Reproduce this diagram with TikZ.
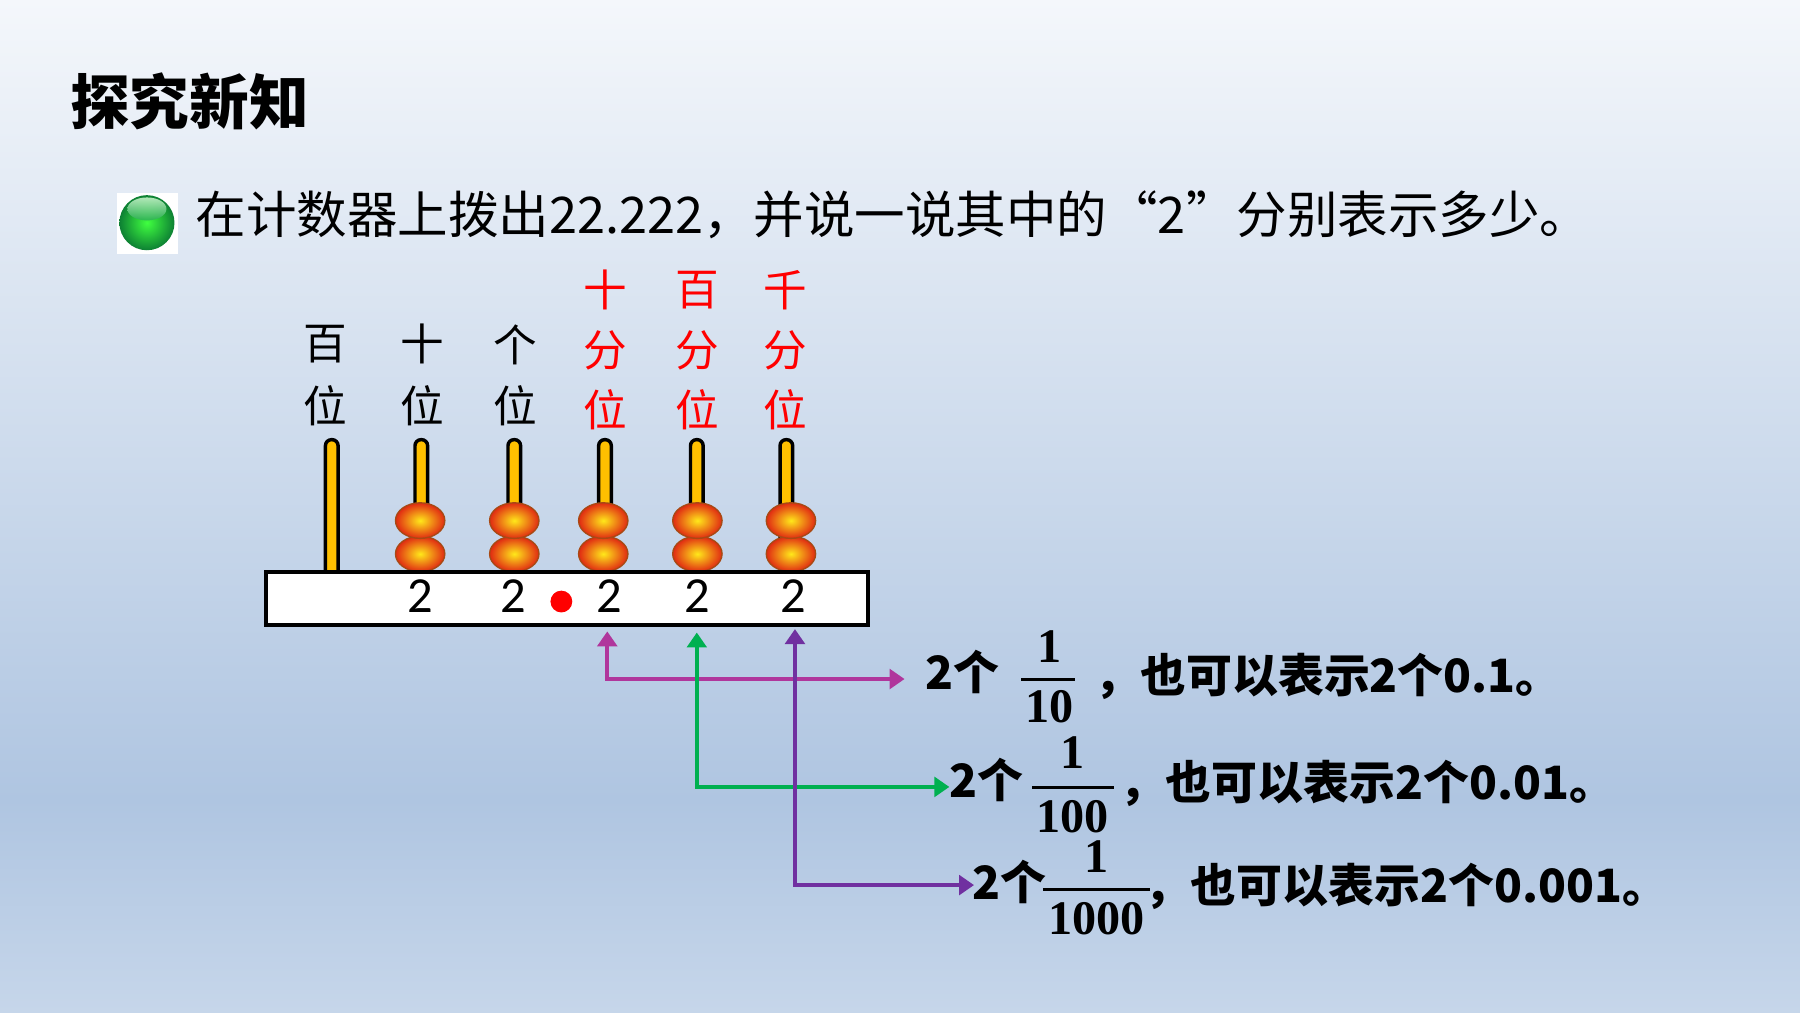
\documentclass[tikz,border=0pt]{standalone}
\usepackage{fontspec}
\newfontfamily\cjk{Noto Sans CJK SC}
\newfontfamily\fracfont{Liberation Serif}
\setsansfont{Carlito}
\usetikzlibrary{arrows.meta}
\definecolor{bgtop}{HTML}{F4F7FB}
\definecolor{bgmid}{HTML}{AFC5E1}
\definecolor{bgbot}{HTML}{C6D6EA}
\definecolor{rodyellow}{HTML}{FFC000}
\definecolor{beadcore}{HTML}{FFE81A}
\definecolor{beadrim}{HTML}{E02A12}
\definecolor{beadedge}{HTML}{A84A14}
\definecolor{arrmag}{HTML}{B0369C}
\definecolor{arrgreen}{HTML}{00B050}
\definecolor{arrpurple}{HTML}{7030A0}
\definecolor{ballgreen}{HTML}{10A040}
\tikzset{
  lab/.style={font=\cjk\fontsize{19}{19}\selectfont, inner sep=0pt},
  redlab/.style={lab, text=red},
  rodstyle/.style={draw=black, fill=rodyellow, line width=1.5pt, rounded corners=2.6pt},
  bead/.style={draw=beadedge, line width=0.6pt, inner color=beadcore, outer color=beadrim},
  digit/.style={font=\sffamily\fontsize{22}{22}\selectfont, inner sep=0pt},
  ans/.style={font=\cjk\bfseries\fontsize{20}{20}\selectfont, inner sep=0pt},
  fracnum/.style={font=\fracfont\bfseries\fontsize{21}{21}\selectfont, inner sep=0pt},
  conn/.style={line width=1.6pt, {Triangle[length=6.5pt,width=8.5pt]}-{Triangle[length=6.5pt,width=8.5pt]}},
}
\begin{document}
\begin{tikzpicture}[x=0.5pt,y=-0.5pt]
\useasboundingbox (0,0) rectangle (1568,882);
% background
\shade[top color=bgtop, bottom color=bgmid] (0,0) rectangle (1568,697);
\shade[top color=bgmid, bottom color=bgbot] (0,696) rectangle (1568,882);
% title
\node[font=\cjk\bfseries\fontsize{26}{26}\selectfont, inner sep=0pt] (title) at (165,88) {探究新知};
% bullet
\fill[white] (102,168) rectangle (155,221);
\shade[inner color=green!75!white, outer color=ballgreen!80!black] (128,194) circle (24);
\shade[top color=white!85!green, bottom color=ballgreen!90!white, opacity=0.8] (128,182) ellipse (17 and 10);
\node[font=\cjk\fontsize{22}{22}\selectfont, anchor=west, inner sep=0pt] (q) at (170,187) {在计数器上拨出22.222，并说一说其中的“2”分别表示多少。};
% labels
\node[lab] (l1a) at (283,300) {百};
\node[lab] (l1b) at (283,353) {位};
\node[lab] (l2a) at (368,300) {十};
\node[lab] (l2b) at (368,353) {位};
\node[lab] (l3a) at (449,300) {个};
\node[lab] (l3b) at (449,353) {位};
\node[redlab] (l4a) at (527,253) {十};
\node[redlab] (l4b) at (527,305) {分};
\node[redlab] (l4c) at (527,357) {位};
\node[redlab] (l5a) at (607,253) {百};
\node[redlab] (l5b) at (607,305) {分};
\node[redlab] (l5c) at (607,357) {位};
\node[redlab] (l6a) at (684,253) {千};
\node[redlab] (l6b) at (684,305) {分};
\node[redlab] (l6c) at (684,357) {位};
% rods
\foreach \x in {289,367,448,527,607,685}{
  \draw[rodstyle] (\x-5.5,510) rectangle (\x+5.5,383);
}
% beads
\foreach \x/\y in {366/482.5,448/482.5,525.5/482.5,607.5/482.5,689/482.5,
                   366/453.5,448/453.5,525.5/453.5,607.5/453.5,689/453.5}{
  \shadedraw[bead] (\x,\y) ellipse (21.5 and 15.5);
}
% base
\draw[line width=1.75pt, fill=white] (231.5,498) rectangle (756,544.5);
\node[digit] (d1) at (366,519) {2};
\node[digit] (d2) at (447,519) {2};
\node[digit] (d3) at (531,519) {2};
\node[digit] (d4) at (607,519) {2};
\node[digit] (d5) at (691,519) {2};
\fill[red] (489,524) circle (9.5);
% answer lines
\node[ans] (a1) at (838,585) {2个};
\node[fracnum] (n1) at (914,563) {1};
\node[fracnum] (m1) at (914,616) {10};
\draw[line width=1.3pt] (889.5,592) -- (936.5,592);
\node[ans, anchor=west] (t1) at (953,589) {，也可以表示2个0.1。};

\node[ans] (a2) at (859,679) {2个};
\node[fracnum] (n2) at (934,656) {1};
\node[fracnum] (m2) at (934,711) {100};
\draw[line width=1.3pt] (899,686) -- (970,686);
\node[ans, anchor=west] (t2) at (975,682) {，也可以表示2个0.01。};

\node[ans] (a3) at (879,768) {2个};
\node[fracnum] (n3) at (955,746) {1};
\node[fracnum] (m3) at (955,800) {1000};
\draw[line width=1.3pt] (908.5,775) -- (1001.5,775);
\node[ans, anchor=west] (t3) at (997,772) {，也可以表示2个0.001。};
% connectors
\coordinate (s1) at (529,550);
\coordinate (e1) at (788,591.5);
\coordinate (s2) at (607,551);
\coordinate (e2) at (827,685.5);
\coordinate (s3) at (692.5,548);
\coordinate (e3) at (848.5,771);
\draw[conn, arrmag] (s1) |- (e1);
\draw[conn, arrgreen] (s2) |- (e2);
\draw[conn, arrpurple] (s3) |- (e3);
\end{tikzpicture}
\end{document}
